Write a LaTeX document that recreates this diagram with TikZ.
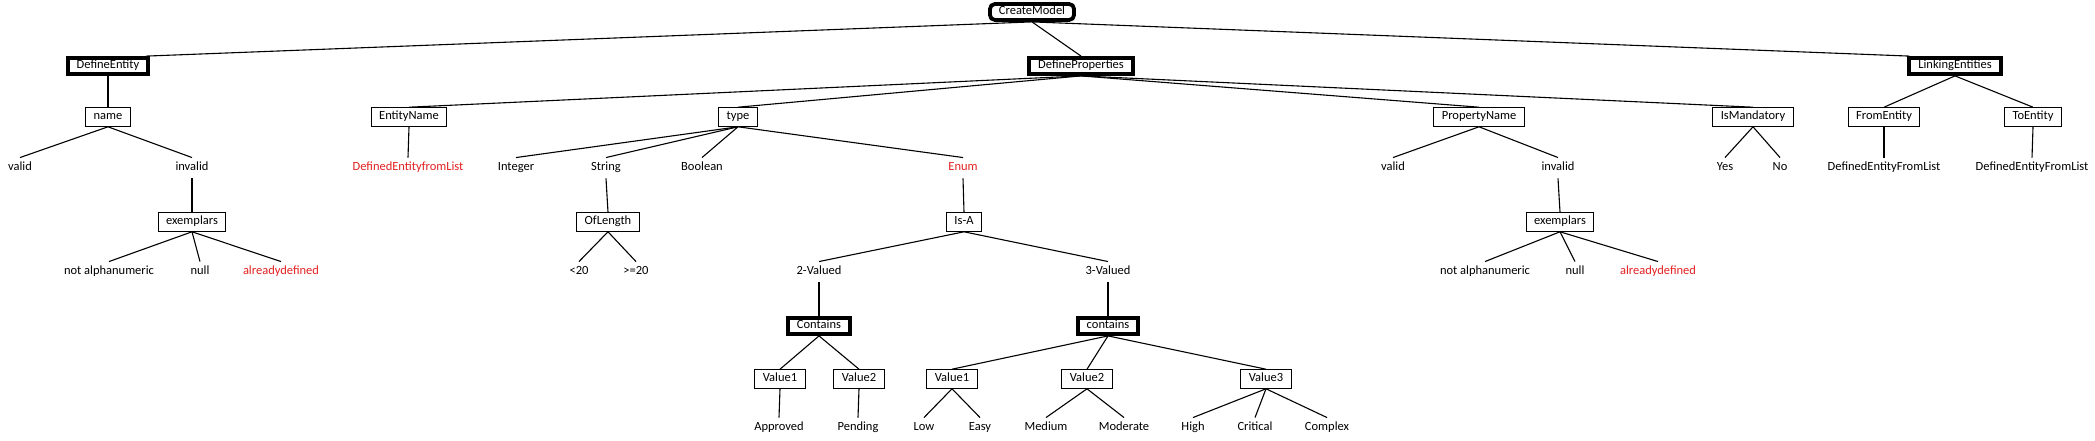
\documentclass[tikz,border=0pt]{standalone}
\usepackage{fontspec}
\setmainfont{Carlito}
\definecolor{hlred}{RGB}{226,32,32}
\begin{document}
\begin{tikzpicture}[x=1pt,y=-1pt,
  every node/.style={font=\fontsize{12.5}{14}\selectfont, text height=8pt, text depth=2.5pt},
  box/.style={draw, line width=1.1pt, fill=white, inner xsep=8pt, inner ysep=0pt, minimum height=18.5pt},
  tbox/.style={draw, line width=3.8pt, fill=white, inner xsep=9pt, inner ysep=0pt, minimum height=16pt},
  rbox/.style={tbox, rounded corners=5pt},
  lbl/.style={inner xsep=2pt, inner ysep=5pt},
  hl/.style={text=hlred},
  conn/.style={line width=1.1pt}
]
\useasboundingbox (0,0) rectangle (2095,441);

% level 0-2
\node[rbox] (cm) at (1032,12) {CreateModel};
\node[tbox] (de) at (108,66) {DefineEntity};
\node[tbox] (dp) at (1081,66) {DefineProperties};
\node[tbox] (le) at (1955,66) {LinkingEntities};
\node[box] (nm) at (108,117) {name};
\node[box] (en) at (409,117) {EntityName};
\node[box] (ty) at (738,117) {type};
\node[box] (pn) at (1479,117) {PropertyName};
\node[box] (im) at (1753,117) {IsMandatory};
\node[box] (fe) at (1884,117) {FromEntity};
\node[box] (te) at (2033,117) {ToEntity};

% level 3
\node[lbl] (va) at (20,168) {valid};
\node[lbl] (iva) at (192,168) {invalid};
\node[lbl,hl] (defl) at (408,168) {DefinedEntityfromList};
\node[lbl] (int) at (516,168) {Integer};
\node[lbl] (str) at (606,168) {String};
\node[lbl] (bool) at (702,168) {Boolean};
\node[lbl,hl] (enum) at (963,168) {Enum};
\node[lbl] (vb) at (1393,168) {valid};
\node[lbl] (ivb) at (1558,168) {invalid};
\node[lbl] (yes) at (1725,168) {Yes};
\node[lbl] (no) at (1780,168) {No};
\node[lbl] (dfa) at (1884,168) {DefinedEntityFromList};
\node[lbl] (dfb) at (2032,168) {DefinedEntityFromList};

% level 4
\node[box] (exa) at (192,222) {exemplars};
\node[box] (ol) at (608,222) {OfLength};
\node[box] (isa) at (964,222) {Is-A};
\node[box] (exb) at (1560,222) {exemplars};

% level 5
\node[lbl] (naa) at (109,272) {not alphanumeric};
\node[lbl] (nla) at (200,272) {null};
\node[lbl,hl] (ada) at (281,272) {alreadydefined};
\node[lbl] (lt) at (579,272) {<20};
\node[lbl] (ge) at (636,272) {>=20};
\node[lbl] (tv) at (819,272) {2-Valued};
\node[lbl] (thv) at (1108,272) {3-Valued};
\node[lbl] (nab) at (1485,272) {not alphanumeric};
\node[lbl] (nlb) at (1575,272) {null};
\node[lbl,hl] (adb) at (1658,272) {alreadydefined};

% level 6-7
\node[tbox] (ca) at (819,326) {Contains};
\node[tbox] (cb) at (1108,326) {contains};
\node[box] (vaa) at (780,379) {Value1};
\node[box] (vab) at (859,379) {Value2};
\node[box] (vba) at (952,379) {Value1};
\node[box] (vbb) at (1087,379) {Value2};
\node[box] (vbc) at (1266,379) {Value3};

% level 8
\node[lbl] (appr) at (779,428) {Approved};
\node[lbl] (pend) at (858,428) {Pending};
\node[lbl] (low) at (924,428) {Low};
\node[lbl] (easy) at (980,428) {Easy};
\node[lbl] (med) at (1046,428) {Medium};
\node[lbl] (mod) at (1124,428) {Moderate};
\node[lbl] (high) at (1193,428) {High};
\node[lbl] (crit) at (1255,428) {Critical};
\node[lbl] (cplx) at (1327,428) {Complex};

% connectors
\draw[conn] (cm.south) -- ([xshift=-4pt]de.north east);
\draw[conn] (cm.south) -- (dp.north);
\draw[conn] (cm.south) -- ([xshift=2pt]le.north west);
\draw[conn] (de.south) -- (nm.north);
\foreach \c in {en,ty,pn,im} \draw[conn] (dp.south) -- (\c.north);
\draw[conn] (le.south) -- (fe.north);
\draw[conn] (le.south) -- (te.north);
\draw[conn] (nm.south) -- (va.north);
\draw[conn] (nm.south) -- (iva.north);
\draw[conn] (en.south) -- (defl.north);
\foreach \c in {int,str,bool,enum} \draw[conn] (ty.south) -- (\c.north);
\draw[conn] (pn.south) -- (vb.north);
\draw[conn] (pn.south) -- (ivb.north);
\draw[conn] (im.south) -- (yes.north);
\draw[conn] (im.south) -- (no.north);
\draw[conn] (fe.south) -- (dfa.north);
\draw[conn] (te.south) -- (dfb.north);
\draw[conn] (iva.south) -- (exa.north);
\draw[conn] (str.south) -- (ol.north);
\draw[conn] (enum.south) -- (isa.north);
\draw[conn] (ivb.south) -- (exb.north);
\foreach \c in {naa,nla,ada} \draw[conn] (exa.south) -- (\c.north);
\foreach \c in {nab,nlb,adb} \draw[conn] (exb.south) -- (\c.north);
\draw[conn] (ol.south) -- (lt.north);
\draw[conn] (ol.south) -- (ge.north);
\draw[conn] (isa.south) -- (tv.north);
\draw[conn] (isa.south) -- (thv.north);
\draw[conn] (tv.south) -- (ca.north);
\draw[conn] (thv.south) -- (cb.north);
\draw[conn] (ca.south) -- (vaa.north);
\draw[conn] (ca.south) -- (vab.north);
\foreach \c in {vba,vbb,vbc} \draw[conn] (cb.south) -- (\c.north);
\draw[conn] (vaa.south) -- (appr.north);
\draw[conn] (vab.south) -- (pend.north);
\draw[conn] (vba.south) -- (low.north);
\draw[conn] (vba.south) -- (easy.north);
\draw[conn] (vbb.south) -- (med.north);
\draw[conn] (vbb.south) -- (mod.north);
\foreach \c in {high,crit,cplx} \draw[conn] (vbc.south) -- (\c.north);
\end{tikzpicture}
\end{document}
